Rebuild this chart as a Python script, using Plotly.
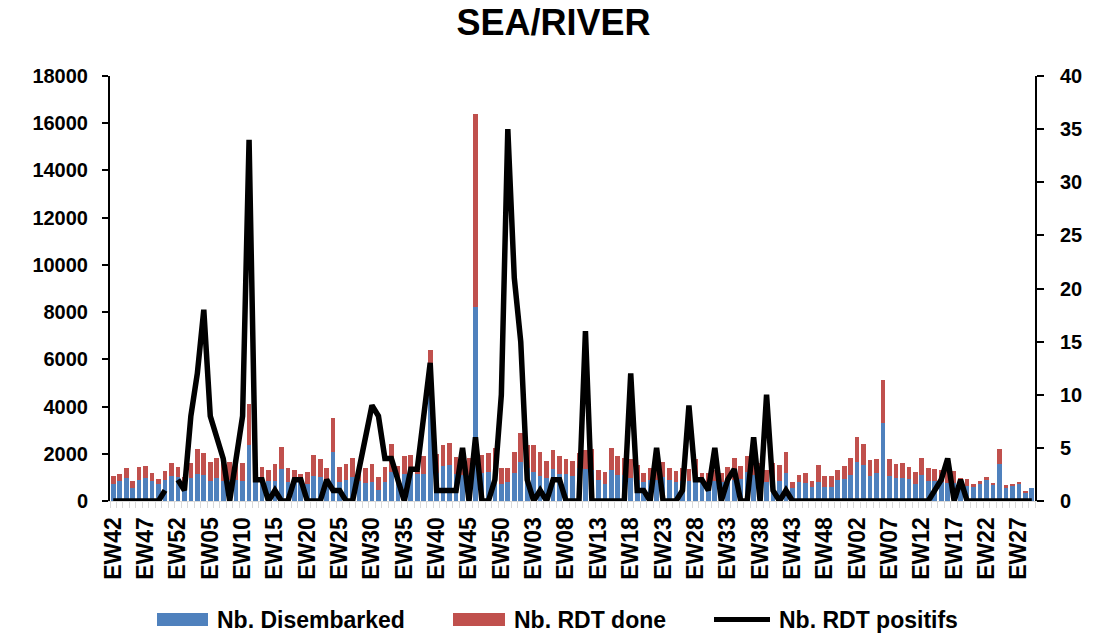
import plotly.graph_objects as go

weeks = """EW42 EW43 EW44 EW45 EW46 EW47 EW48 EW49 EW50 EW51 EW52
EW01 EW02 EW03 EW04 EW05 EW06 EW07 EW08 EW09 EW10 EW11 EW12 EW13 EW14 EW15 EW16 EW17 EW18 EW19 EW20
EW21 EW22 EW23 EW24 EW25 EW26 EW27 EW28 EW29 EW30 EW31 EW32 EW33 EW34 EW35 EW36 EW37 EW38 EW39 EW40
EW41 EW42 EW43 EW44 EW45 EW46 EW47 EW48 EW49 EW50 EW51 EW52
EW01 EW02 EW03 EW04 EW05 EW06 EW07 EW08 EW09 EW10 EW11 EW12 EW13 EW14 EW15 EW16 EW17 EW18 EW19 EW20
EW21 EW22 EW23 EW24 EW25 EW26 EW27 EW28 EW29 EW30 EW31 EW32 EW33 EW34 EW35 EW36 EW37 EW38 EW39 EW40
EW41 EW42 EW43 EW44 EW45 EW46 EW47 EW48 EW49 EW50 EW51 EW52
EW02 EW03 EW04 EW05 EW06 EW07 EW08 EW09 EW10 EW11 EW12 EW13 EW14 EW15 EW16 EW17 EW18 EW19 EW20
EW21 EW22 EW23 EW24 EW25 EW26 EW27 EW28 EW29""".split()

disembarked = [
    740, 830, 970, 570, 900, 970, 860, 710, 890, 1070,
    1000, 600, 970, 1140, 1100, 860, 970, 850, 900, 890,
    860, 2360, 850, 1000, 860, 860, 1340, 790, 900, 860,
    740, 1070, 1000, 790, 2060, 810, 890, 1000, 860, 760,
    810, 470, 790, 1210, 900, 1140, 1170, 1140, 1140, 5800,
    1200, 1470, 1540, 1140, 1100, 1100, 8200, 1190, 1210, 1100,
    740, 790, 1170, 1640, 1390, 1240, 1070, 970, 1340, 1140,
    1140, 1070, 1400, 1360, 1300, 890, 740, 1330, 1090, 1100,
    970, 900, 810, 890, 900, 1000, 890, 810, 860, 850,
    860, 860, 800, 860, 790, 860, 900, 930, 1210, 1100,
    1000, 790, 900, 860, 1190, 540, 790, 760, 610, 810,
    610, 610, 900, 930, 1100, 1640, 1530, 1040, 1170, 3290,
    1040, 960, 970, 930, 710, 1100, 860, 860, 790, 770,
    760, 690, 640, 610, 710, 900, 670, 1570, 530, 640,
    710, 360, 570,
]

rdt_done = [
    330, 310, 430, 260, 560, 530, 330, 230, 400, 540,
    430, 400, 640, 1050, 940, 810, 860, 850, 740, 710,
    740, 1740, 250, 430, 470, 710, 950, 610, 410, 280,
    500, 860, 790, 600, 1440, 650, 680, 830, 440, 640,
    760, 530, 640, 1190, 600, 750, 760, 110, 760, 600,
    800, 920, 930, 720, 750, 710, 8200, 740, 830, 1160,
    650, 600, 900, 1220, 1000, 1150, 1000, 740, 800, 750,
    650, 620, 630, 810, 910, 440, 470, 930, 800, 710,
    820, 640, 390, 520, 700, 640, 500, 480, 530, 500,
    900, 310, 400, 440, 400, 570, 910, 570, 680, 700,
    600, 520, 700, 680, 880, 270, 320, 430, 250, 730,
    430, 460, 430, 570, 710, 1050, 900, 700, 590, 1850,
    720, 610, 640, 500, 500, 730, 530, 500, 510, 480,
    530, 270, 290, 100, 120, 130, 90, 620, 140, 100,
    100, 70, 0,
]

rdt_positifs = [
    0, 0, 0, 0, 0, 0, 0, 0, 1, None,
    2, 1, 8, 12, 18, 8, 6, 4, 0, 4,
    8, 34, 2, 2, 0, 1, 0, 0, 2, 2,
    0, 0, 0, 2, 1, 1, 0, 0, 3, 6,
    9, 8, 4, 4, 2, 0, 3, 3, 8, 13,
    1, 1, 1, 1, 5, 0, 6, 0, 0, 2,
    10, 35, 21, 15, 2, 0, 1, 0, 2, 2,
    0, 0, 0, 16, 0, 0, 0, 0, 0, 0,
    12, 1, 1, 0, 5, 0, 0, 0, 1, 9,
    2, 2, 1, 5, 0, 2, 3, 0, 0, 6,
    0, 10, 1, 0, 1, 0, 0, 0, 0, 0,
    0, 0, 0, 0, 0, 0, 0, 0, 0, 0,
    0, 0, 0, 0, 0, 0, 0, 1, 2, 4,
    0, 2, 0, 0, 0, 0, 0, 0, 0, 0,
    0, 0, 0,
]

series_names = ["Nb. Disembarked", "Nb. RDT done", "Nb. RDT positifs"]
colors = ["#4F81BD", "#C0504D", "#000000"]

FONT = "Liberation Sans, Arial, sans-serif"
pos = list(range(len(weeks)))
tickvals = pos[::5]
ticktext = [weeks[i] for i in tickvals]

fig = go.Figure()
fig.add_trace(go.Bar(x=pos, y=disembarked, name=series_names[0],
                     marker=dict(color=colors[0], line=dict(width=0)), yaxis="y"))
fig.add_trace(go.Bar(x=pos, y=rdt_done, name=series_names[1],
                     marker=dict(color=colors[1], line=dict(width=0)), yaxis="y"))
fig.add_trace(go.Scatter(x=pos, y=rdt_positifs, name=series_names[2], mode="lines",
                         line=dict(color=colors[2], width=5.5), connectgaps=False, yaxis="y2"))

tick_font = dict(family=FONT, size=20, color="black", weight="bold")

fig.update_layout(
    width=1107, height=633,
    margin=dict(l=110, r=72, t=76, b=132),
    paper_bgcolor="white", plot_bgcolor="white",
    barmode="stack", bargap=0.28,
    showlegend=False,
    title=dict(text="SEA/RIVER", x=0.5, xref="container", xanchor="center",
               y=1 - 22 / 633, yref="container", yanchor="middle",
               font=dict(family=FONT, size=36, color="black", weight="bold")),
    xaxis=dict(range=[-0.5, len(weeks) - 0.5], tickmode="array", tickvals=tickvals,
               ticktext=ticktext, tickangle=-90, ticks="", showgrid=False, zeroline=False,
               showline=True, linecolor="#D9D9D9", linewidth=1,
               tickfont=dict(family=FONT, size=23, color="black", weight="bold"),
               ticklabelstandoff=6,
               minor=dict(ticks="outside", ticklen=6, tickcolor="#D9D9D9", tickwidth=1,
                          tick0=-0.5, dtick=1, showgrid=False)),
    yaxis=dict(range=[0, 18000], dtick=2000, tickformat="d", showgrid=False, zeroline=False,
               showline=True, linecolor="black", linewidth=2,
               ticks="outside", ticklen=6, tickwidth=2, tickcolor="black",
               tickfont=tick_font, ticklabelstandoff=10),
    yaxis2=dict(range=[0, 40], dtick=5, overlaying="y", side="right", showgrid=False,
                zeroline=False, showline=True, linecolor="black", linewidth=2,
                ticks="outside", ticklen=7, tickwidth=2, tickcolor="black",
                tickfont=tick_font, ticklabelstandoff=12),
)

# Manual legend (wide swatches like the original)
def px_x(px):
    return (px - 110) / 925.0

def px_y(py):
    return (501 - py) / 425.0

leg_y = 619.5
fig.add_shape(type="rect", xref="paper", yref="paper",
              x0=px_x(157), x1=px_x(208), y0=px_y(626), y1=px_y(613),
              fillcolor=colors[0], line=dict(width=0))
fig.add_shape(type="rect", xref="paper", yref="paper",
              x0=px_x(453), x1=px_x(505), y0=px_y(626), y1=px_y(613),
              fillcolor=colors[1], line=dict(width=0))
fig.add_shape(type="line", xref="paper", yref="paper",
              x0=px_x(714), x1=px_x(770), y0=px_y(leg_y), y1=px_y(leg_y),
              line=dict(color=colors[2], width=5))
for name, xs in zip(series_names, [215, 512, 777]):
    fig.add_annotation(text=name, xref="paper", yref="paper", x=px_x(xs), y=px_y(leg_y),
                       xanchor="left", yanchor="middle", showarrow=False,
                       font=dict(family=FONT, size=23, color="black", weight="bold"))

fig.write_html("out.html")
